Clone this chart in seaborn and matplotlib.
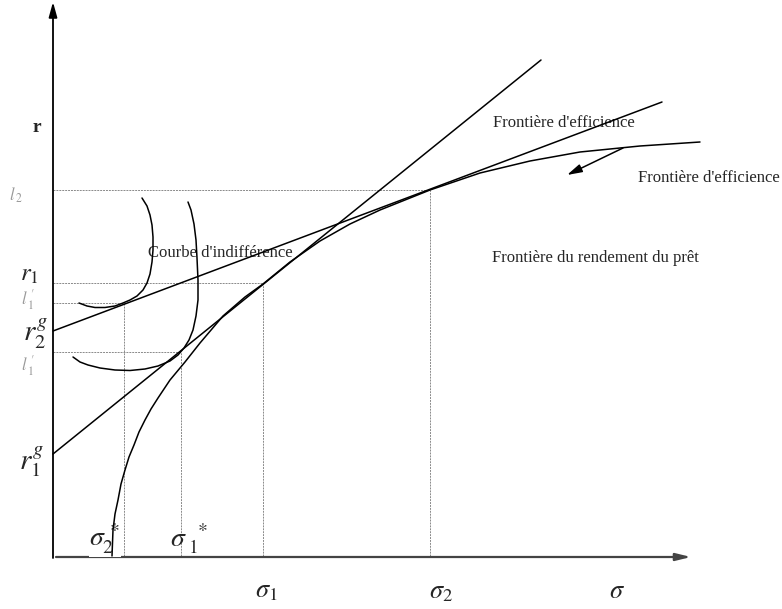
import numpy as np
import pandas as pd
import matplotlib
matplotlib.use("Agg")
import matplotlib.pyplot as plt
import seaborn as sns

sigma_pos = {"s2_star": 71, "s1_star": 128, "s1": 210, "s2": 377}
r_levels = {"r2": 366, "r1": 273, "r2_p": 253, "r1_p": 204}

# Droites partant de r_1^g et r_2^g (point de départ, point d'arrivée)
line1_x = [0, 488]
line1_y = [102, 496]
line2_x = [0, 609]
line2_y = [225, 454]

# Frontière du rendement du prêt (points relevés)
front_x = [59, 60, 62, 65, 68, 72, 76, 81, 86, 92, 98, 105, 117, 132, 147, 170,
           192, 210, 237, 267, 297, 327, 377, 427, 477, 527, 587, 647]
front_y = [0, 26, 42, 56, 72, 86, 99, 111, 124, 136, 147, 158, 176, 194, 213, 240,
           259, 272, 294, 315, 332, 346, 366, 383, 395, 404, 410, 414]

# Courbes d'indifférence
ind1_x = [26, 34, 42, 52, 62, 70, 77, 84, 90, 94, 97, 99, 100, 100, 99, 97, 94, 89]
ind1_y = [253, 250, 248.5, 248.5, 250, 253, 256, 260, 266, 273, 282, 294, 306, 319,
          331, 341, 350, 358]
ind2_x = [20, 27, 35, 47, 62, 77, 92, 105, 117, 125, 131, 136, 140, 143, 145, 145,
          144, 143, 141, 138, 135]
ind2_y = [199, 194, 191, 188, 186, 185.5, 187, 190, 195, 201, 208, 216, 226, 240,
          256, 276, 298, 316, 332, 346, 354]

curves = pd.concat([
    pd.DataFrame({"x": line1_x, "y": line1_y, "c": "l1"}),
    pd.DataFrame({"x": line2_x, "y": line2_y, "c": "l2"}),
    pd.DataFrame({"x": front_x, "y": front_y, "c": "front"}),
    pd.DataFrame({"x": ind1_x, "y": ind1_y, "c": "ind1"}),
    pd.DataFrame({"x": ind2_x, "y": ind2_y, "c": "ind2"}),
])

sns.set_style("white")
plt.rcParams["font.family"] = ["Liberation Serif", "DejaVu Serif"]
plt.rcParams["mathtext.fontset"] = "stix"

fig = plt.figure(figsize=(7.82, 6.09), dpi=100)
ax = fig.add_axes([0, 0, 1, 1])
ax.set_xlim(-53, 729)
ax.set_ylim(-53, 556)
ax.axis("off")

# lignes pointillées de repère
pairs = [("s2", "r2"), ("s1", "r1"), ("s2_star", "r2_p"), ("s1_star", "r1_p")]
for s, r in pairs:
    xs, yr = sigma_pos[s], r_levels[r]
    ax.plot([0, xs], [yr, yr], color="#8a8a8a", lw=0.7, ls=(0, (2, 1)), zorder=1)
    ax.plot([xs, xs], [0, yr], color="#8a8a8a", lw=0.7, ls=(0, (2, 1)), zorder=1)

sns.lineplot(data=curves, x="x", y="y", units="c", estimator=None, sort=False,
             color="black", lw=1.1, ax=ax, zorder=4)

# axes
ax.annotate("", xy=(0, 554), xytext=(0, -2),
            arrowprops=dict(arrowstyle="-|>,head_length=0.9,head_width=0.25",
                            color="black", lw=1.3, shrinkA=0, shrinkB=0))
ax.annotate("", xy=(638, -1), xytext=(3, -1),
            arrowprops=dict(arrowstyle="-|>,head_length=0.9,head_width=0.22",
                            color="#444444", lw=1.6, shrinkA=0, shrinkB=0))

# flèche vers la frontière
ax.annotate("", xy=(514, 381), xytext=(570, 408),
            arrowprops=dict(arrowstyle="-|>,head_length=0.9,head_width=0.25",
                            color="black", lw=1.1, shrinkA=0, shrinkB=0))

# textes
ax.text(440, 433, "Frontière d'efficience", fontsize=12, va="center", ha="left")
ax.text(585, 378, "Frontière d'efficience", fontsize=12, va="center", ha="left")
ax.text(439, 298, "Frontière du rendement du prêt", fontsize=12, va="center", ha="left")
ax.text(95, 303, "Courbe d'indifférence", fontsize=12, va="center", ha="left", zorder=3)
ax.text(-16, 429, "r", fontsize=14, fontweight="bold", va="center", ha="center")

# étiquettes de l'axe vertical
ax.text(-18, 222, r"$r_2^g$", fontsize=21, va="center", ha="center")
ax.text(-22, 94, r"$r_1^g$", fontsize=21, va="center", ha="center")
ax.text(-24, 281, r"$r_1$", fontsize=18, va="center", ha="center")
gray_labels = [(-37, 361, r"$l_{\;2}$"),
               (-25, 256, r"$l_{\;1}^{\;\prime}$"),
               (-25, 190, r"$l_{\;1}^{\;\prime}$")]
for x, y, t in gray_labels:
    ax.text(x, y, t, fontsize=12, color="#9a9a9a", va="center", ha="center")

# étiquettes de l'axe horizontal
ax.text(52, 17, r"$\sigma_2^{\,*}$", fontsize=20, va="center", ha="center",
        bbox=dict(facecolor="white", edgecolor="none", pad=0.5), zorder=3)
ax.text(136, 17, r"$\sigma_{\ 1}^{\ \ *}$", fontsize=20, va="center", ha="center", zorder=3)
ax.text(213, -36, r"$\sigma_1$", fontsize=19, va="center", ha="center")
ax.text(388, -37, r"$\sigma_2$", fontsize=19, va="center", ha="center")
ax.text(564, -36, r"$\sigma$", fontsize=19, va="center", ha="center")

fig.savefig("out.png", dpi=100)
